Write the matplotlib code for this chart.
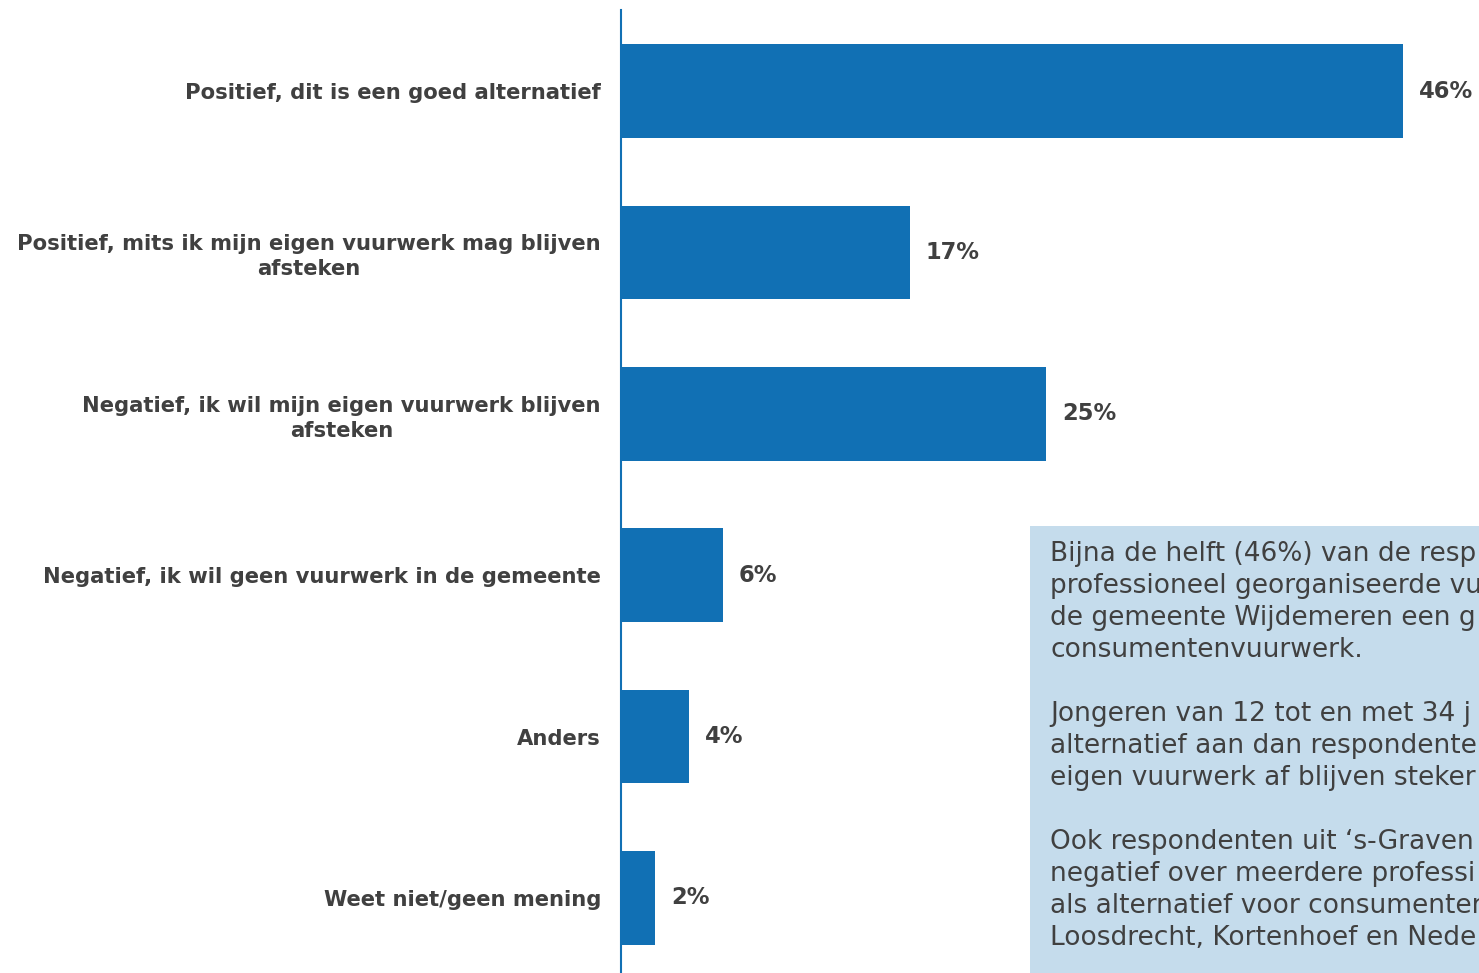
import matplotlib
matplotlib.use("Agg")
import matplotlib.pyplot as plt
from matplotlib.patches import Rectangle

categories = [
    "Positief, dit is een goed alternatief",
    "Positief, mits ik mijn eigen vuurwerk mag blijven\nafsteken",
    "Negatief, ik wil mijn eigen vuurwerk blijven\nafsteken",
    "Negatief, ik wil geen vuurwerk in de gemeente",
    "Anders",
    "Weet niet/geen mening",
]
values = [46, 17, 25, 6, 4, 2]
value_labels = ["46%", "17%", "25%", "6%", "4%", "2%"]

box_lines = [
    "Bijna de helft (46%) van de resp",
    "professioneel georganiseerde vu",
    "de gemeente Wijdemeren een g",
    "consumentenvuurwerk.",
    "",
    "Jongeren van 12 tot en met 34 j",
    "alternatief aan dan respondente",
    "eigen vuurwerk af blijven steker",
    "",
    "Ook respondenten uit \u2018s-Graven",
    "negatief over meerdere professi",
    "als alternatief voor consumenter",
    "Loosdrecht, Kortenhoef en Nede",
]

BAR = "#1170B4"
TXT = "#404040"
W, H = 1479, 973
fig = plt.figure(figsize=(W / 100, H / 100), dpi=100)
ax = fig.add_axes([621 / W, 0, 1 - 621 / W, 1 - 10 / H])

pos = list(range(len(categories)))
ax.barh(pos, values, height=0.58, color=BAR)
ax.set_xlim(0, 858 / 17.0)
ax.set_ylim(5.465, -0.502)
for s in ["top", "right", "bottom"]:
    ax.spines[s].set_visible(False)
ax.spines["left"].set_color(BAR)
ax.spines["left"].set_linewidth(1.5)
ax.set_xticks([])
ax.set_yticks(pos)
ax.set_yticklabels(categories, fontsize=15.2, fontweight="bold", color=TXT,
                   multialignment="center", linespacing=1.3)
ax.tick_params(axis="y", length=0, pad=14.4)

for p, v, lab in zip(pos, values, value_labels):
    ax.text(v + 0.94, p, lab, va="center", ha="left", fontsize=16.3,
            fontweight="bold", color=TXT)

# text box (its text runs past the right edge, as in the original)
fig.patches.append(Rectangle((1030 / W, 0), 1 - 1030 / W, (973 - 526) / H,
                             transform=fig.transFigure, facecolor="#C5DCEC",
                             edgecolor="none", zorder=5))
y0 = 554
for i, line in enumerate(box_lines):
    fig.text(1050 / W, 1 - (y0 + i * 32) / H, line, fontsize=19, color=TXT,
             va="center", ha="left", zorder=6)

fig.savefig("out.png", dpi=100)
